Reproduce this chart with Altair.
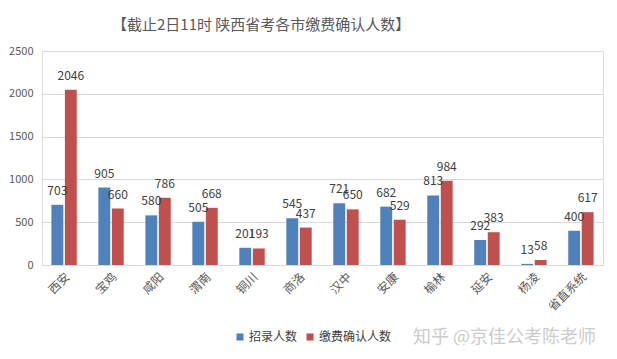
import altair as alt
import pandas as pd

cities = ["西安", "宝鸡", "咸阳", "渭南", "铜川", "商洛", "汉中", "安康", "榆林", "延安", "杨凌", "省直系统"]
recruit = [703, 905, 580, 505, 201, 545, 721, 682, 813, 292, 13, 400]
confirmed = [2046, 660, 786, 668, 193, 437, 650, 529, 984, 383, 58, 617]
series = ["招录人数", "缴费确认人数"]
colors = ["#4F81BD", "#C0504D"]
y_ticks = [0, 500, 1000, 1500, 2000, 2500]

rows = []
for c, a, b in zip(cities, recruit, confirmed):
    rows.append({"city": c, "series": series[0], "value": a})
    rows.append({"city": c, "series": series[1], "value": b})
df = pd.DataFrame(rows)

FONT = "Noto Sans CJK SC"

x = alt.X("city:N", sort=cities, title=None,
          scale=alt.Scale(paddingInner=0.46, paddingOuter=0.2),
          axis=alt.Axis(labelAngle=-45, labelFontSize=12, labelColor="#595959",
                        labelFont=FONT, ticks=False, domainColor="#d9d9d9",
                        labelPadding=6))
xo = alt.XOffset("series:N", sort=series, scale=alt.Scale(paddingInner=0.12))
y = alt.Y("value:Q", title=None,
          scale=alt.Scale(domain=[0, 2500]),
          axis=alt.Axis(values=y_ticks, format="d", labelFontSize=11, labelColor="#595959",
                        labelFont=FONT, ticks=False, domain=False,
                        gridColor="#d9d9d9", labelPadding=9))
color = alt.Color("series:N", sort=series,
                  scale=alt.Scale(domain=series, range=colors),
                  legend=alt.Legend(title=None, orient="none", direction="horizontal",
                                    legendX=192, legendY=280, symbolType="square",
                                    symbolSize=50, symbolStrokeWidth=0,
                                    labelFontSize=12, labelColor="#404040",
                                    labelFont=FONT, columnPadding=6, labelOffset=3))

base = alt.Chart(df)
bars = base.mark_bar().encode(x=x, xOffset=xo, y=y, color=color)
labels = base.mark_text(baseline="middle", dy=-14, fontSize=12, color="#404040",
                        font=FONT).encode(
    x=x, xOffset=xo, y=y, text="value:Q")

wm = alt.Chart(pd.DataFrame({"t": ["知乎 @京佳公考陈老师"]})).mark_text(
    align="left", baseline="middle", fontSize=18, color="#cccccc", font=FONT
).encode(x=alt.value(371), y=alt.value(287), text="t:N")

chart = alt.layer(bars, labels, wm).properties(
    width=561, height=214,
    title=alt.TitleParams("【截止2日11时 陕西省考各市缴费确认人数】", anchor="start",
                          frame="group", dx=70, offset=12, fontSize=15, font=FONT,
                          color="#595959", fontWeight="normal"),
    autosize=alt.AutoSizeParams(type="none"),
    padding={"left": 34, "top": 43, "right": 6, "bottom": 80},
).configure_view(stroke=None).configure(background="white")

chart.save("out.html", embed_options={"renderer": "svg", "actions": False})
